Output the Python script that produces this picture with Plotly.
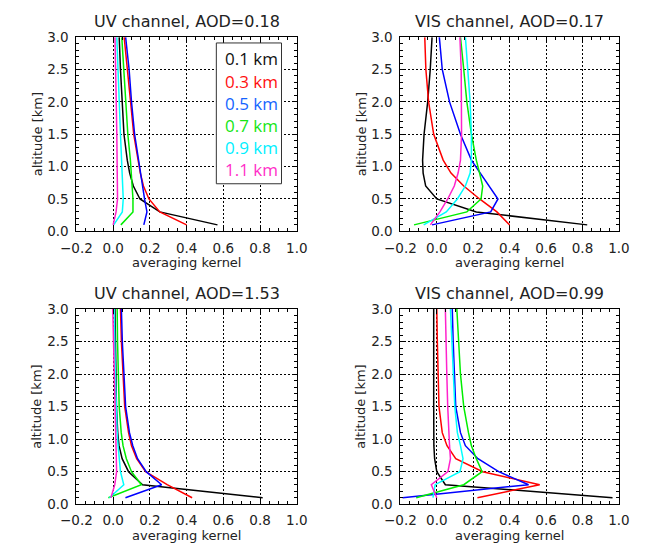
import plotly.graph_objects as go

W, H = 651, 553

altitude = [0.1, 0.3, 0.5, 0.7, 0.9, 1.1, 1.5, 2.0, 2.5, 3.0]
labels = ["0.1 km", "0.3 km", "0.5 km", "0.7 km", "0.9 km", "1.1 km"]
colors = ["#000000", "#ff0000", "#0000ff", "#00ee00", "#00ffff", "#ff22cc"]
legend_colors = ["#111111", "#ff1010", "#1464ff", "#14e614", "#00f0ff", "#ff30c8"]

titles = ["UV channel, AOD=0.18", "VIS channel, AOD=0.17",
          "UV channel, AOD=1.53", "VIS channel, AOD=0.99"]

# averaging kernels, one list per nominal altitude (0.1 ... 1.1 km)
uv_018 = [
    [0.568, 0.254, 0.146, 0.110, 0.090, 0.077, 0.059, 0.048, 0.040, 0.033],
    [0.400, 0.254, 0.195, 0.165, 0.148, 0.135, 0.112, 0.095, 0.078, 0.060],
    [0.167, 0.184, 0.171, 0.160, 0.150, 0.140, 0.117, 0.100, 0.087, 0.068],
    [0.042, 0.108, 0.108, 0.104, 0.100, 0.094, 0.080, 0.068, 0.059, 0.047],
    [0.003, 0.050, 0.055, 0.053, 0.050, 0.046, 0.040, 0.033, 0.027, 0.020],
    [0.000, 0.016, 0.024, 0.024, 0.023, 0.022, 0.020, 0.017, 0.014, 0.010],
]
vis_017 = [
    [0.826, 0.217, 0.000, -0.061, -0.075, -0.078, -0.070, -0.050, -0.036, -0.026],
    [0.400, 0.330, 0.235, 0.148, 0.078, 0.035, -0.017, -0.045, -0.060, -0.066],
    [-0.026, 0.296, 0.336, 0.287, 0.235, 0.190, 0.130, 0.070, 0.030, 0.014],
    [-0.125, 0.165, 0.243, 0.252, 0.235, 0.217, 0.190, 0.165, 0.148, 0.130],
    [-0.072, 0.052, 0.113, 0.157, 0.183, 0.190, 0.190, 0.183, 0.170, 0.157],
    [-0.035, 0.017, 0.060, 0.096, 0.117, 0.130, 0.136, 0.136, 0.134, 0.127],
]
uv_153 = [
    [0.814, 0.160, 0.084, 0.049, 0.032, 0.025, 0.018, 0.014, 0.012, 0.010],
    [0.430, 0.294, 0.177, 0.128, 0.100, 0.084, 0.063, 0.052, 0.045, 0.040],
    [0.067, 0.264, 0.180, 0.133, 0.107, 0.089, 0.068, 0.057, 0.050, 0.045],
    [-0.026, 0.154, 0.100, 0.072, 0.054, 0.044, 0.033, 0.027, 0.024, 0.022],
    [-0.020, 0.058, 0.040, 0.032, 0.027, 0.022, 0.016, 0.012, 0.009, 0.006],
    [-0.012, 0.009, 0.019, 0.017, 0.015, 0.013, 0.010, 0.006, 0.002, -0.002],
]
vis_099 = [
    [0.965, 0.047, 0.000, -0.012, -0.016, -0.017, -0.017, -0.017, -0.017, -0.017],
    [0.223, 0.565, 0.252, 0.104, 0.056, 0.030, 0.012, 0.006, 0.003, 0.000],
    [-0.188, 0.504, 0.340, 0.226, 0.157, 0.130, 0.104, 0.095, 0.090, 0.085],
    [-0.113, 0.148, 0.249, 0.217, 0.190, 0.174, 0.148, 0.130, 0.120, 0.110],
    [-0.021, -0.009, 0.127, 0.144, 0.130, 0.113, 0.099, 0.090, 0.083, 0.075],
    [0.000, -0.030, 0.061, 0.075, 0.070, 0.066, 0.060, 0.055, 0.050, 0.047],
]
panels = [uv_018, vis_017, uv_153, vis_099]

# panel pixel boxes: (left, right, top, bottom)
boxes = [(63, 293, 30, 230), (401, 629, 30, 230),
         (63, 293, 310, 511), (401, 629, 310, 511)]

fig = go.Figure()
FONT = "DejaVu Sans"
TXT = "#222222"

layout = dict(
    width=W, height=H, margin=dict(l=0, r=0, t=0, b=0),
    paper_bgcolor="white", plot_bgcolor="white", showlegend=False,
    hovermode=False,
)
annotations = []
shapes = []

for i, (data, box) in enumerate(zip(panels, boxes)):
    n = "" if i == 0 else str(i + 1)
    l, r, t, b = box
    xdom = [l / W, r / W]
    ydom = [1 - b / H, 1 - t / H]
    common = dict(
        ticks="inside", ticklen=5, tickcolor="black", tickwidth=1,
        showline=True, linecolor="black", linewidth=1, mirror="ticks",
        showgrid=True, gridcolor="black", griddash="2px,2px", gridwidth=1,
        zeroline=False, tickformat=".1f",
        tickfont=dict(family=FONT, size=13.5, color=TXT),
    )
    layout["xaxis" + n] = dict(
        common, domain=xdom, range=[-0.2, 1.0], tick0=0, dtick=0.2,
        anchor="y" + n, ticklabelstandoff=4,
        minor=dict(dtick=0.05, ticks="inside", ticklen=3, tickcolor="black", showgrid=False),
    )
    layout["yaxis" + n] = dict(
        common, domain=ydom, range=[0, 3.0], tick0=0, dtick=0.5,
        anchor="x" + n, ticklabelstandoff=4,
        minor=dict(dtick=0.1, ticks="inside", ticklen=3, tickcolor="black", showgrid=False),
    )
    for k in range(len(labels)):
        fig.add_trace(go.Scatter(
            x=data[k], y=altitude, mode="lines", name=labels[k],
            line=dict(color=colors[k], width=1.5),
            xaxis="x" + n, yaxis="y" + n, hoverinfo="skip",
        ))
    cx = (l + r) / 2
    annotations.append(dict(text=titles[i], x=cx / W, y=1 - (t - 16) / H,
                            xref="paper", yref="paper", showarrow=False,
                            xanchor="center", yanchor="middle",
                            font=dict(family=FONT, size=16, color=TXT)))
    annotations.append(dict(text="averaging kernel", x=cx / W, y=1 - (b + 32) / H,
                            xref="paper", yref="paper", showarrow=False,
                            xanchor="center", yanchor="middle",
                            font=dict(family=FONT, size=13, color=TXT)))
    annotations.append(dict(text="altitude [km]", x=(l - 41) / W, y=1 - (t + b) / 2 / H,
                            xref="paper", yref="paper", showarrow=False, textangle=-90,
                            xanchor="center", yanchor="middle",
                            font=dict(family=FONT, size=13, color=TXT)))

# legend box in the first panel
shapes.append(dict(type="rect", xref="paper", yref="paper",
                   x0=209 / W, x1=277 / W, y0=1 - 181 / H, y1=1 - 36 / H,
                   fillcolor="white", line=dict(color="#333333", width=1), layer="above"))
for k, lab in enumerate(labels):
    annotations.append(dict(text=lab, x=216 / W, y=1 - (52.5 + 22.7 * k) / H,
                            xref="paper", yref="paper", showarrow=False,
                            xanchor="left", yanchor="middle",
                            font=dict(family="Open Sans", size=17, color=legend_colors[k])))

layout["annotations"] = annotations
layout["shapes"] = shapes
fig.update_layout(**layout)
fig.write_html(
    "out.html",
    config={"displayModeBar": False, "staticPlot": True},
    post_script="document.body.style.margin='0px';document.body.style.padding='0px';"
                "document.body.style.overflow='hidden';",
)
